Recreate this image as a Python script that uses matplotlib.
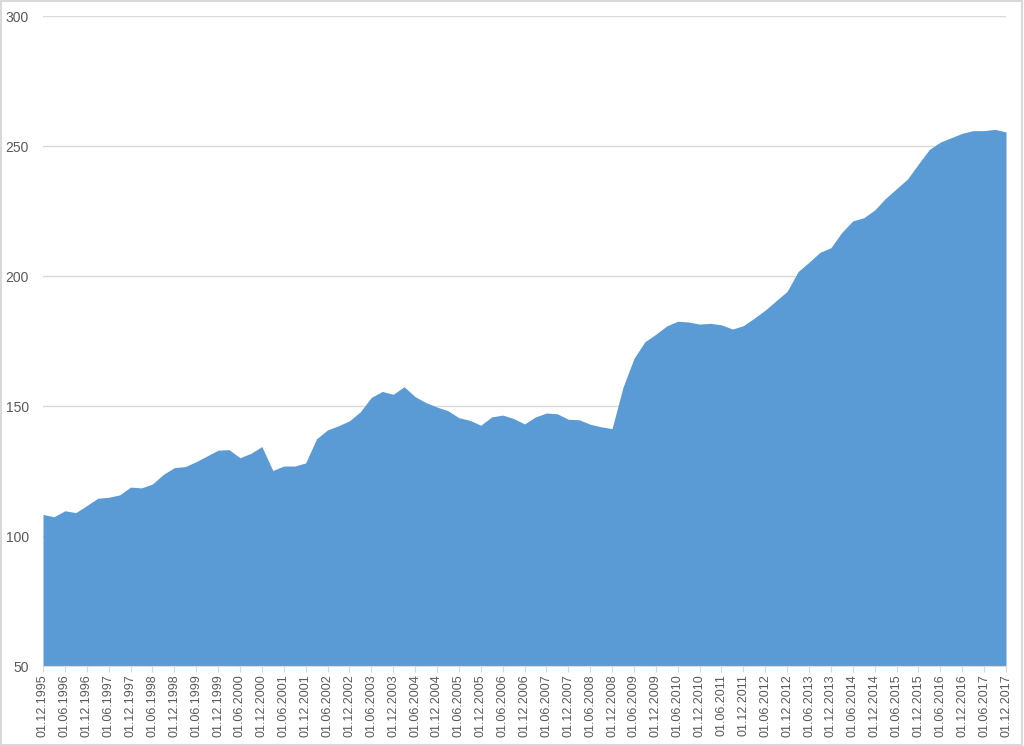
import matplotlib
matplotlib.use("Agg")
import matplotlib.pyplot as plt
from matplotlib.patches import Rectangle

# Quarterly dates 01.12.1995 .. 01.12.2017
quarters = []
for y in range(1995, 2018):
    for m in ("03", "06", "09", "12"):
        if (y == 1995 and m != "12"):
            continue
        quarters.append(f"01.{m}.{y}")

values = [108.3, 107.4, 109.7, 109.0, 111.7, 114.5, 114.9, 115.8, 118.8, 118.5,
          120.0, 123.7, 126.3, 126.7, 128.6, 130.8, 133.0, 133.2, 130.1, 131.8,
          134.4, 125.2, 126.9, 126.9, 128.1, 137.4, 140.8, 142.4, 144.3, 147.8,
          153.3, 155.6, 154.5, 157.4, 153.6, 151.3, 149.6, 148.2, 145.5, 144.5,
          142.6, 145.8, 146.5, 145.2, 143.1, 145.8, 147.3, 147.0, 144.9, 144.7,
          143.0, 142.0, 141.3, 157.2, 168.3, 174.7, 177.6, 180.8, 182.6, 182.3,
          181.5, 181.8, 181.2, 179.6, 180.9, 183.8, 186.9, 190.5, 194.1, 201.7,
          205.3, 209.1, 210.9, 216.8, 221.2, 222.4, 225.4, 229.9, 233.6, 237.3,
          243.1, 248.7, 251.5, 253.2, 254.9, 255.9, 255.9, 256.4, 255.4]

yticks = [50, 100, 150, 200, 250, 300]

plt.rcParams['font.family'] = ['Liberation Sans', 'DejaVu Sans']

fig = plt.figure(figsize=(10.24, 7.46), dpi=100)
ax = fig.add_axes([43/1024, 80/746, (1006-43)/1024, 650/746])

x = list(range(len(values)))
ax.fill_between(x, 50, values, color="#5B9BD5", linewidth=0, zorder=2)

ax.set_xlim(0, len(values) - 1)
ax.set_ylim(50, 300)
ax.set_yticks(yticks)
ax.set_yticklabels([str(v) for v in yticks], color="#595959", fontsize=10)
ax.yaxis.grid(True, color="#D9D9D9", linewidth=1, zorder=1)
ax.set_axisbelow(True)

tick_pos = x[::2]
ax.set_xticks(tick_pos)
ax.set_xticklabels(quarters[::2], rotation=90, color="#595959", fontsize=9)
ax.tick_params(axis="x", length=4, color="#D9D9D9", pad=2)
ax.tick_params(axis="y", length=0, pad=10)

for s in ("top", "right", "left"):
    ax.spines[s].set_visible(False)
ax.spines["bottom"].set_color("#D9D9D9")

fig.patches.append(Rectangle((0.001, 0.001), 0.997, 0.997, transform=fig.transFigure,
                             fill=False, edgecolor="#D9D9D9", linewidth=1.5))

fig.savefig("out.png", dpi=100)
